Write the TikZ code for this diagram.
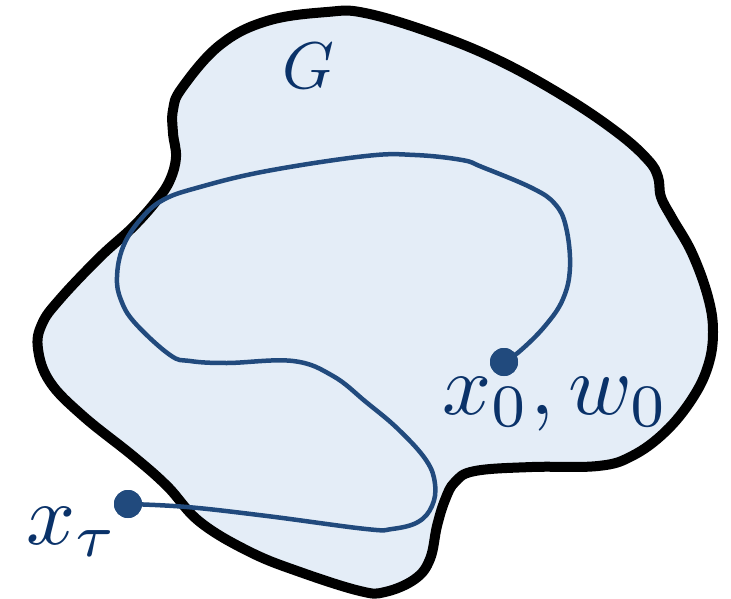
\documentclass[tikz,border=0pt]{standalone}
\definecolor{regionfill}{RGB}{228,237,247}
\definecolor{pathblue}{RGB}{33,74,125}
\definecolor{labelblue}{RGB}{10,50,105}
\begin{document}
\begin{tikzpicture}[x=1pt,y=-1pt,
  outline/.style={draw=black,line width=10pt,fill=regionfill,line join=round},
  trajectory/.style={draw=pathblue,line width=4.5pt,line cap=round,line join=round},
  dotnode/.style={circle,fill=pathblue,inner sep=0pt,minimum size=28pt},
  lab/.style={text=labelblue,inner sep=0pt,anchor=base west}]
\useasboundingbox (0,0) rectangle (731,599);
\draw[outline] plot[smooth cycle,tension=0.65] coordinates {
  (327,12) (365,13) (432,33) (498,60) (565,97) (618,133) (648,160) (658,177)
  (661,197) (672,218) (692,253) (708,297) (713,332) (708,366) (692,399)
  (665,432) (632,456) (598,466) (532,467) (475,471) (455,482) (445,500)
  (437,526) (430,559) (415,579) (385,592) (360,591) (300,572) (250,552)
  (200,522) (167,486) (133,456) (83,416) (50,382) (38,349) (42,324) (60,299)
  (100,257) (133,227) (157,200) (170,180) (176,157) (173,133) (173,110)
  (182,88) (220,45) (267,21)};
\node[dotnode] (x0) at (504,362) {};
\node[dotnode] (xt) at (128,504) {};
\draw[trajectory] plot[smooth,tension=0.65] coordinates {
  (x0.center) (520,351) (545,326) (563,299) (570,267) (566,227) (555,204)
  (532,188) (482,167) (462,160) (415,155) (366,156) (267,171) (200,187)
  (163,200) (140,220) (123,247) (117,277) (121,300) (135,323) (170,355)
  (190,361) (227,363) (293,361) (333,376) (366,402) (398,429) (426,460)
  (435,484) (432,506) (418,522) (392,529) (366,529) (267,516) (187,507)
  (xt.center)};
\node[dotnode] at (x0) {};
\node[dotnode] at (xt) {};
\node[lab,scale=6.6] (G) at (281,89) {$G$};
\node[lab,scale=8.6] (lx0) at (441,414) {$x_0, w_0$};
\node[lab,scale=8.6] (lxt) at (25,544) {$x_\tau$};
\end{tikzpicture}
\end{document}
